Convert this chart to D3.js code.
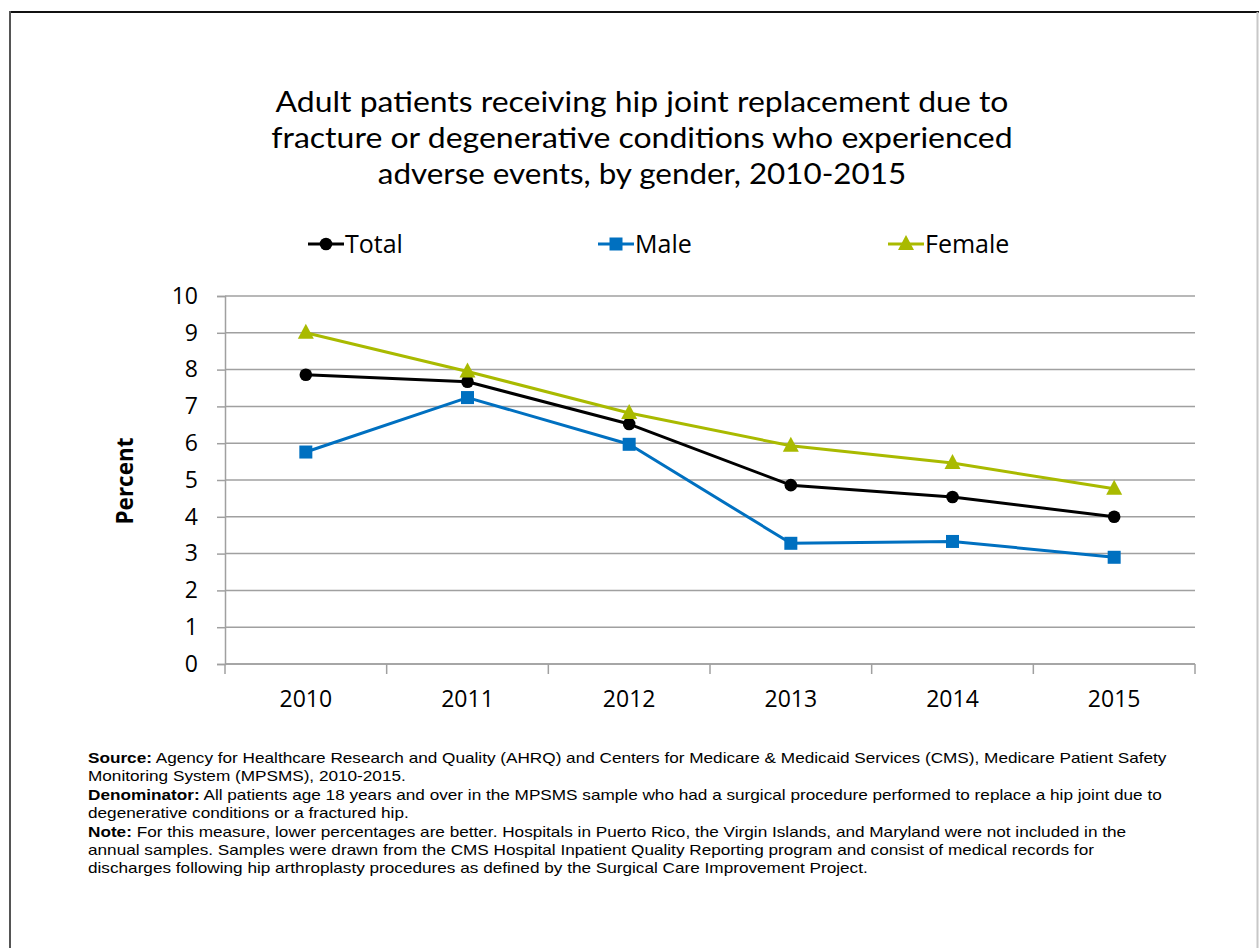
<!DOCTYPE html>
<html><head><meta charset="utf-8">
<script src="https://cdn.jsdelivr.net/npm/d3@7"></script>
<style>body{margin:0;background:#fff}svg{display:block}</style>
</head><body>
<script>
const years = ["2010","2011","2012","2013","2014","2015"];
const totalVals = [7.86, 7.67, 6.52, 4.86, 4.54, 4.00];
const maleVals = [5.76, 7.24, 5.97, 3.28, 3.33, 2.90];
const femaleVals = [9.00, 7.95, 6.82, 5.93, 5.46, 4.76];
const yTicks = [0,1,2,3,4,5,6,7,8,9,10];
const seriesNames = ["Total","Male","Female"];
const seriesColors = ["#000000","#0070C0","#A9BA00"];
const seriesShapes = ["circle","square","triangle"];
const titleLines = ["Adult patients receiving hip joint replacement due to",
  "fracture or degenerative conditions who experienced",
  "adverse events, by gender, 2010-2015"];
const notes = [
  [["Source:", true], [" Agency for Healthcare Research and Quality (AHRQ) and Centers for Medicare & Medicaid Services (CMS), Medicare Patient Safety", false]],
  [["Monitoring System (MPSMS), 2010-2015.", false]],
  [["Denominator:", true], [" All patients age 18 years and over in the MPSMS sample who had a surgical procedure performed to replace a hip joint due to", false]],
  [["degenerative conditions or a fractured hip.", false]],
  [["Note:", true], [" For this measure, lower percentages are better. Hospitals in Puerto Rico, the Virgin Islands, and Maryland were not included in the", false]],
  [["annual samples. Samples were drawn from the CMS Hospital Inpatient Quality Reporting program and consist of medical records for", false]],
  [["discharges following hip arthroplasty procedures as defined by the Surgical Care Improvement Project.", false]]
];

const W = 1259, H = 948;
const svg = d3.select("body").append("svg").attr("width", W).attr("height", H);

// frame
svg.append("line").attr("x1",9).attr("x2",1259).attr("y1",12).attr("y2",12).attr("stroke","#111").attr("stroke-width",2);
svg.append("line").attr("x1",10).attr("x2",10).attr("y1",11).attr("y2",H).attr("stroke","#555").attr("stroke-width",2);
svg.append("line").attr("x1",1257.5).attr("x2",1257.5).attr("y1",12).attr("y2",H).attr("stroke","#c8c8c8").attr("stroke-width",2);

const FONT = "Open Sans, Lato, sans-serif";

// title: widths follow Open Sans 30px, drawn in Lato 29px to keep line boxes apart
titleLines.forEach((s,i)=>{
  const tmp = svg.append("text").attr("font-family",FONT).attr("font-size",30).text(s);
  const w = tmp.node().getComputedTextLength();
  tmp.remove();
  svg.append("text").attr("x",642).attr("y",112 + i*36)
    .attr("text-anchor","middle").attr("font-family","Lato, Open Sans, sans-serif").attr("font-size",29)
    .attr("fill","#000").attr("textLength",w).attr("lengthAdjust","spacingAndGlyphs").text(s);
});

const x0 = 225, x1 = 1195, yTop = 296, yBot = 664;
const x = d3.scaleBand().domain(years).range([x0,x1]);
const y = d3.scaleLinear().domain([0,10]).range([yBot,yTop]);

// gridlines
svg.append("g").selectAll("line").data(yTicks).join("line")
  .attr("x1",x0).attr("x2",x1).attr("y1",d=>y(d)).attr("y2",d=>y(d))
  .attr("stroke","#a0a0a0").attr("stroke-width",1.5);

// y axis
const yAxis = svg.append("g").attr("transform",`translate(${x0},0)`)
  .call(d3.axisLeft(y).tickValues(yTicks).tickSize(8).tickPadding(19).tickFormat(d3.format("d")));
yAxis.select(".domain").attr("stroke","#a0a0a0").attr("stroke-width",1.5);
yAxis.selectAll(".tick line").attr("stroke","#a0a0a0").attr("stroke-width",1.5);
yAxis.selectAll("text").attr("font-family",FONT).attr("font-size",23).attr("fill","#000");

// x axis
const xAxis = svg.append("g").attr("transform",`translate(0,${yBot})`)
  .call(d3.axisBottom(x).tickSize(0).tickPadding(27));
xAxis.select(".domain").remove();
xAxis.selectAll("text").attr("font-family",FONT).attr("font-size",23).attr("fill","#000");
const bounds = years.map(d=>x(d)).concat([x1]);
svg.append("g").selectAll("line").data(bounds).join("line")
  .attr("x1",d=>d).attr("x2",d=>d).attr("y1",yBot).attr("y2",yBot+10)
  .attr("stroke","#a0a0a0").attr("stroke-width",1.5);
svg.append("line").attr("x1",x0).attr("x2",x1).attr("y1",yBot).attr("y2",yBot).attr("stroke","#a0a0a0").attr("stroke-width",1.5);

// y label
svg.append("text").attr("transform","translate(133,481) rotate(-90)")
  .attr("text-anchor","middle").attr("font-family",FONT).attr("font-weight","bold")
  .attr("font-size",22.5).text("Percent");

// series
const allVals = [totalVals, maleVals, femaleVals];
const cx = d => x(d) + x.bandwidth()/2;
const line = d3.line().x((d,i)=>cx(years[i])).y(d=>y(d));
function marker(g, shape, color, px, py){
  if(shape==="circle") g.append("circle").attr("cx",px).attr("cy",py).attr("r",6.3).attr("fill",color);
  else if(shape==="square") g.append("rect").attr("x",px-6.5).attr("y",py-6.5).attr("width",13).attr("height",13).attr("fill",color);
  else g.append("path").attr("d",`M${px},${py-9} L${px+8},${py+6} L${px-8},${py+6} Z`).attr("fill",color);
}
allVals.forEach((vals,si)=>{
  const g = svg.append("g");
  g.append("path").datum(vals).attr("d",line).attr("fill","none")
    .attr("stroke",seriesColors[si]).attr("stroke-width",3).attr("stroke-linejoin","round");
  vals.forEach((v,i)=>marker(g, seriesShapes[si], seriesColors[si], cx(years[i]), y(v)));
});

// legend
const legendX = [308, 598, 888];
seriesNames.forEach((n,i)=>{
  const g = svg.append("g");
  const lx = legendX[i], ly = 244;
  g.append("line").attr("x1",lx).attr("x2",lx+36).attr("y1",ly).attr("y2",ly).attr("stroke",seriesColors[i]).attr("stroke-width",3);
  marker(g, seriesShapes[i], seriesColors[i], lx+18, ly);
  g.append("text").attr("x",lx+37).attr("y",ly+9).attr("font-family",FONT).attr("font-size",25).text(n);
});

// notes: uniform horizontal scale so the first line spans the reference width
const nt = svg.append("g");
const noteTexts = notes.map((parts,i)=>{
  const t = nt.append("text").attr("x",0).attr("y",0)
    .attr("font-family","Liberation Sans, Arial, sans-serif").attr("font-size",14).attr("fill","#000");
  parts.forEach(p=>t.append("tspan").attr("font-weight",p[1]?"bold":"normal").text(p[0]));
  return t;
});
const sx = 1080 / noteTexts[0].node().getComputedTextLength();
noteTexts.forEach((t,i)=>t.attr("transform",`translate(88,${763 + i*18.4}) scale(${sx},1)`));
</script>
</body></html>
